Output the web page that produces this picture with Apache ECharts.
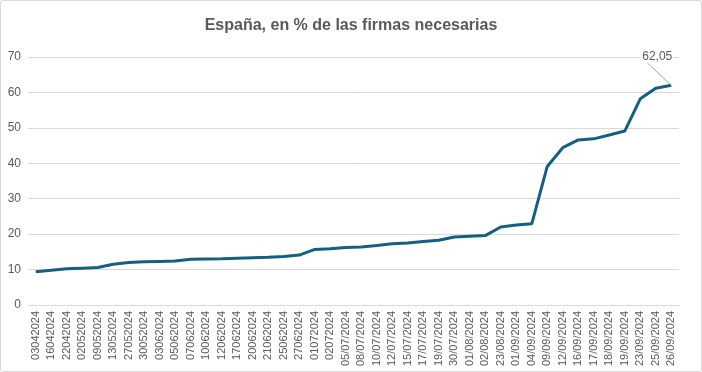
<!DOCTYPE html>
<html><head><meta charset="utf-8">
<script src="https://cdn.jsdelivr.net/npm/echarts@6/dist/echarts.min.js"></script>
<style>html,body{margin:0;padding:0;background:#fff}#c{width:702px;height:372px;box-sizing:border-box;border:1px solid #d9d9d9;border-radius:3px}</style>
</head><body><div id="c"></div>
<script>
var categories = ["03042024","16042024","22042024","02052024","09052024","13052024","27052024","30052024","03062024","05062024","07062024","10062024","12062024","17062024","20062024","21062024","25062024","27062024","01072024","02072024","05/07/2024","08/07/2024","10/07/2024","12/07/2024","15/07/2024","17/07/2024","19/07/2024","30/07/2024","01/08/2024","02/08/2024","23/08/2024","01/09/2024","04/09/2024","09/09/2024","12/09/2024","16/09/2024","17/09/2024","18/09/2024","19/09/2024","23/09/2024","25/09/2024","26/09/2024"];
var values = [9.4,9.8,10.2,10.4,10.6,11.5,12.0,12.2,12.3,12.4,12.9,13.0,13.05,13.2,13.35,13.5,13.7,14.1,15.7,15.9,16.2,16.4,16.8,17.3,17.5,17.9,18.3,19.2,19.4,19.6,22.0,22.6,22.9,39.1,44.4,46.6,46.9,48.0,49.1,58.2,61.2,62.05];
var yTicks = {min:0, max:70, interval:10};
var titleText = "España, en % de las firmas necesarias";
var lastLabel = "62,05";

var chart = echarts.init(document.getElementById('c'), null, {renderer:'canvas'});
var seriesData = values.map(function(v,i){
  if(i === values.length-1){
    return {value:v, label:{show:true, position:'top', distance:5, formatter:lastLabel, color:'#595959', fontSize:12, fontFamily:'Liberation Sans', backgroundColor:'#fff', padding:[0,1]}, labelLine:{show:true, lineStyle:{color:'#a6a6a6', width:1}}};
  }
  return v;
});
chart.setOption({
  animation:false,
  title:{text:titleText, left:'center', top:12, textStyle:{fontFamily:'Liberation Sans', fontWeight:'bold', fontSize:16, color:'#595959'}},
  grid:{left:27, right:22, top:56, bottom:66, containLabel:false},
  xAxis:{type:'category', data:categories, boundaryGap:true,
    axisLine:{lineStyle:{color:'#d9d9d9', width:1}}, axisTick:{show:false},
    axisLabel:{rotate:90, interval:0, color:'#595959', fontSize:11, fontFamily:'Liberation Sans', margin:6}},
  yAxis:{type:'value', min:yTicks.min, max:yTicks.max, interval:yTicks.interval,
    axisLine:{show:false}, axisTick:{show:false},
    splitLine:{lineStyle:{color:'#d9d9d9', width:1}},
    axisLabel:{color:'#595959', fontSize:12, fontFamily:'Liberation Sans', margin:7}},
  series:[{type:'line', data:seriesData, symbol:'circle', symbolSize:0, showSymbol:true,
    lineStyle:{color:'#156082', width:3}, itemStyle:{color:'rgba(0,0,0,0)'},
    labelLayout:function(p){ if(p.dataIndex === values.length-1){ return {dx:-14, dy:-17}; } return {}; }}]
});
</script></body></html>
